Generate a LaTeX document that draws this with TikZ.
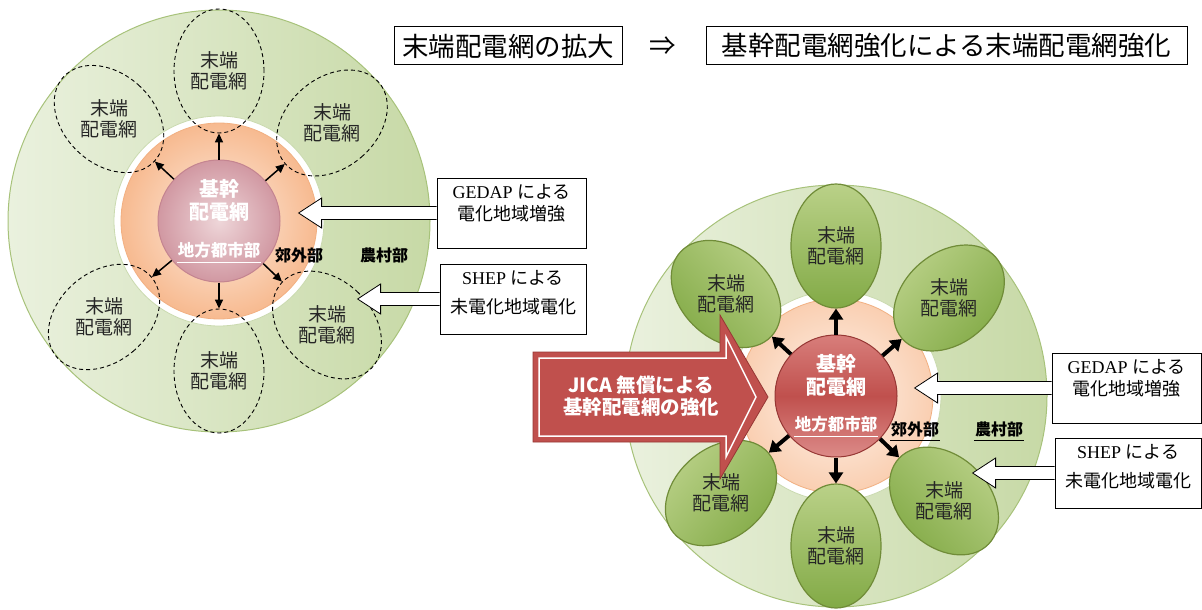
\documentclass[tikz,border=0pt]{standalone}
\usepackage{fontspec}
\setmainfont{Liberation Serif}
\newfontfamily\jp{Noto Sans CJK JP}
\usetikzlibrary{positioning,arrows.meta,shapes.geometric}
\definecolor{ringgreen}{RGB}{167,194,122}
\definecolor{ringlight}{RGB}{234,241,222}
\definecolor{ringdark}{RGB}{199,217,166}
\definecolor{peachlight}{RGB}{253,236,224}
\definecolor{peachdark}{RGB}{247,186,144}
\definecolor{peachedge}{RGB}{242,176,130}
\definecolor{pinklight}{RGB}{238,214,217}
\definecolor{pinkdark}{RGB}{209,152,162}
\definecolor{pinkedge}{RGB}{196,132,144}
\definecolor{leaflight}{RGB}{186,209,136}
\definecolor{leafdark}{RGB}{130,170,70}
\definecolor{leafedge}{RGB}{112,140,56}
\definecolor{jicared}{RGB}{192,80,77}
\definecolor{jicadark}{RGB}{150,55,52}
\definecolor{redlight}{RGB}{216,126,123}

\begin{document}
\begin{tikzpicture}[
    x=1pt, y=-1pt,
    titlebox/.style={
        draw,
        line width=1pt,
        minimum height=38pt,
        inner xsep=1pt, inner ysep=0pt,
        font=\jp\fontsize{26.5}{30}\selectfont
    },
    callbox/.style={
        draw,
        line width=0.8pt,
        fill=white,
        minimum height=70pt,
        inner sep=0pt
    },
    calltext/.style={
        align=center,
        inner sep=0pt,
        font=\fontsize{18}{22}\selectfont
    },
    hollow/.style={
        draw,
        line width=0.8pt,
        fill=white
    },
    outerring/.style={
        draw=ringgreen,
        line width=1pt,
        left color=ringlight,
        right color=ringdark
    },
    whitering/.style={
        draw=ringgreen!60,
        line width=0.8pt,
        fill=white
    },
    peach/.style={
        draw=peachedge,
        line width=0.8pt,
        inner color=peachlight,
        outer color=peachdark
    },
    hub/.style={
        circle,
        minimum size=122pt,
        inner sep=0pt
    },
    dashleaf/.style={
        ellipse,
        draw,
        dash pattern=on 4pt off 3pt,
        line width=0.9pt,
        minimum width=90pt,
        minimum height=124pt,
        inner sep=0pt
    },
    leaf/.style={
        ellipse,
        draw=leafedge,
        line width=1.2pt,
        top color=leaflight,
        bottom color=leafdark,
        minimum width=90pt,
        minimum height=124pt,
        inner sep=0pt
    },
    leaftext/.style={
        align=center,
        text=black!85,
        font=\jp\fontsize{19}{21.5}\selectfont
    },
    hubtext/.style={
        align=center,
        text=white,
        font=\jp\bfseries\fontsize{20}{23}\selectfont
    },
    citytext/.style={
        text=white,
        inner xsep=0.5pt, inner ysep=4.5pt,
        font=\jp\bfseries\fontsize{16.5}{18}\selectfont
    },
    zonetext/.style={
        inner xsep=1pt, inner ysep=4pt,
        font=\jp\bfseries\fontsize{16}{18}\selectfont
    },
    spoke/.style={
        -{Triangle[length=9pt,width=8pt]},
        line width=1.5pt
    },
    fatspoke/.style={
        -{Triangle[length=11pt,width=14pt]},
        line width=4pt
    }
]

\useasboundingbox (0,0) rectangle (1202,610);

% ============================================================
% TITLE
% ============================================================

\node[titlebox, minimum width=228pt] (titleL) at (508,46)
{末端配電網の拡大};

\node[font=\jp\fontsize{26.5}{30}\selectfont] (implies) at (663,46)
{⇒};

\node[titlebox, minimum width=481pt] (titleR) at (946.5,46)
{基幹配電網強化による末端配電網強化};

% ============================================================
% LEFT — BEFORE
% ============================================================

\draw[outerring] (219,221) circle[radius=211pt];
\draw[whitering] (219,221) circle[radius=105pt];
\draw[peach] (219,221) circle[radius=98pt];

\node[hub, draw=pinkedge, line width=1pt, inner color=pinklight,
      outer color=pinkdark] (hubL) at (219,221) {};

\node[dashleaf] (leafLtop) at (219,71) {};
\node[dashleaf, rotate=-49] (leafLur) at (332,123) {};
\node[dashleaf, rotate=47] (leafLul) at (109,119) {};
\node[dashleaf, rotate=-50] (leafLll) at (104,317) {};
\node[dashleaf] (leafLbot) at (219,371) {};
\node[dashleaf, rotate=46] (leafLlr) at (327,325) {};

\node[leaftext] (labLtop) at (leafLtop) {末端\\配電網};
\node[leaftext] (labLur) at (leafLur) {末端\\配電網};
\node[leaftext] (labLul) at (leafLul) {末端\\配電網};
\node[leaftext] (labLll) at (leafLll) {末端\\配電網};
\node[leaftext] (labLbot) at (leafLbot) {末端\\配電網};
\node[leaftext] (labLlr) at (leafLlr) {末端\\配電網};

\draw[spoke] (hubL) -- (leafLtop);
\draw[spoke] (hubL) -- (leafLur);
\draw[spoke] (hubL) -- (leafLul);
\draw[spoke] (hubL) -- (leafLll);
\draw[spoke] (hubL) -- (leafLbot);
\draw[spoke] (hubL) -- (leafLlr);

\node[hubtext] (coreL) at (219,200)
{基幹\\配電網};
\node[citytext] (cityL) at (219,250)
{地方都市部};
\draw[white, line width=0.8pt] (cityL.south west) -- (cityL.south east);

\node[zonetext] (suburbL) at (299,255) {郊外部};
\node[zonetext] (ruralL) at (384,255) {農村部};

\node[callbox, minimum width=149pt] (gedapL) at (511.5,213) {};
\node[calltext, below=7pt of gedapL.north] (gedapLtxt)
{GEDAP {\jp による}\\{\jp 電化地域増強}};
\draw[hollow] ([yshift=6.5pt]gedapL.west) -- ++(-115,0) -- ++(0,-8.5)
    -- ++(-23,15) -- ++(23,15) -- ++(0,-8.5) -- ([yshift=-6.5pt]gedapL.west);

\node[callbox, minimum width=146pt] (shepL) at (513,299) {};
\node[calltext, below=7pt of shepL.north] (shepLtxt)
{SHEP {\jp による}\\[7pt]{\jp 未電化地域電化}};
\draw[hollow] ([yshift=6.5pt]shepL.west) -- ++(-59,0) -- ++(0,-8.5)
    -- ++(-23,15) -- ++(23,15) -- ++(0,-8.5) -- ([yshift=-6.5pt]shepL.west);

% ============================================================
% RIGHT — AFTER
% ============================================================

\draw[outerring] (836,396) circle[radius=211pt];
\draw[whitering] (836,396) circle[radius=105pt];
\draw[peach, inner color=peachlight!60!white, outer color=peachdark!70!white]
    (836,396) circle[radius=97pt];

\node[leaf] (leafRtop) at (836,246) {};
\node[leaf, rotate=-49, shading angle=49] (leafRur) at (949,298) {};
\node[leaf, rotate=47, shading angle=-47] (leafRul) at (726,294) {};
\node[leaf, rotate=-50, shading angle=50] (leafRll) at (721,493) {};
\node[leaf] (leafRbot) at (836,546) {};
\node[leaf, rotate=46, shading angle=-46] (leafRlr) at (944,501) {};

\node[leaftext] (labRtop) at (leafRtop) {末端\\配電網};
\node[leaftext] (labRur) at (leafRur) {末端\\配電網};
\node[leaftext] (labRul) at (leafRul) {末端\\配電網};
\node[leaftext] (labRll) at (leafRll) {末端\\配電網};
\node[leaftext] (labRbot) at (leafRbot) {末端\\配電網};
\node[leaftext] (labRlr) at (leafRlr) {末端\\配電網};

\node[hub, draw=jicadark, line width=1pt, top color=redlight,
      bottom color=redlight!90!white, middle color=jicared] (hubR) at (836,396) {};

\draw[fatspoke] (hubR) -- (leafRtop);
\draw[fatspoke] (hubR) -- (leafRur);
\draw[fatspoke] (hubR) -- (leafRul);
\draw[fatspoke] (hubR) -- (leafRll);
\draw[fatspoke] (hubR) -- (leafRbot);
\draw[fatspoke] (hubR) -- (leafRlr);

\node[hubtext] (coreR) at (836,375)
{基幹\\配電網};
\node[citytext] (cityR) at (836,424)
{地方都市部};
\draw[white, line width=0.8pt] (cityR.south west) -- (cityR.south east);

\node[zonetext] (suburbR) at (915,429) {郊外部};
\draw[line width=0.8pt] (suburbR.south west) -- (suburbR.south east);
\node[zonetext] (ruralR) at (999,429) {農村部};
\draw[line width=0.8pt] (ruralR.south west) -- (ruralR.south east);

% JICA arrow
\fill[jicared, draw=jicadark, line width=0.8pt] (533,352) -- (720,352) -- (720,315)
    -- (768,397) -- (720,479) -- (720,442) -- (533,442) -- cycle;
\draw[white, line width=1.5pt] (539,358) -- (726,358) -- (726,337)
    -- (756,397) -- (726,457) -- (726,436) -- (539,436) -- cycle;
\node[align=center, text=white, font=\jp\bfseries\fontsize{19.5}{22}\selectfont]
    (jica) at (641,396) {JICA 無償による\\基幹配電網の強化};

\node[callbox, minimum width=149pt] (gedapR) at (1126.5,388) {};
\node[calltext, below=7pt of gedapR.north] (gedapRtxt)
{GEDAP {\jp による}\\{\jp 電化地域増強}};
\draw[hollow] ([yshift=6.5pt]gedapR.west) -- ++(-114,0) -- ++(0,-8.5)
    -- ++(-23,15) -- ++(23,15) -- ++(0,-8.5) -- ([yshift=-6.5pt]gedapR.west);

\node[callbox, minimum width=146pt] (shepR) at (1128,473) {};
\node[calltext, below=7pt of shepR.north] (shepRtxt)
{SHEP {\jp による}\\[7pt]{\jp 未電化地域電化}};
\draw[hollow] ([yshift=6.5pt]shepR.west) -- ++(-59,0) -- ++(0,-8.5)
    -- ++(-23,15) -- ++(23,15) -- ++(0,-8.5) -- ([yshift=-6.5pt]shepR.west);

\end{tikzpicture}
\end{document}
